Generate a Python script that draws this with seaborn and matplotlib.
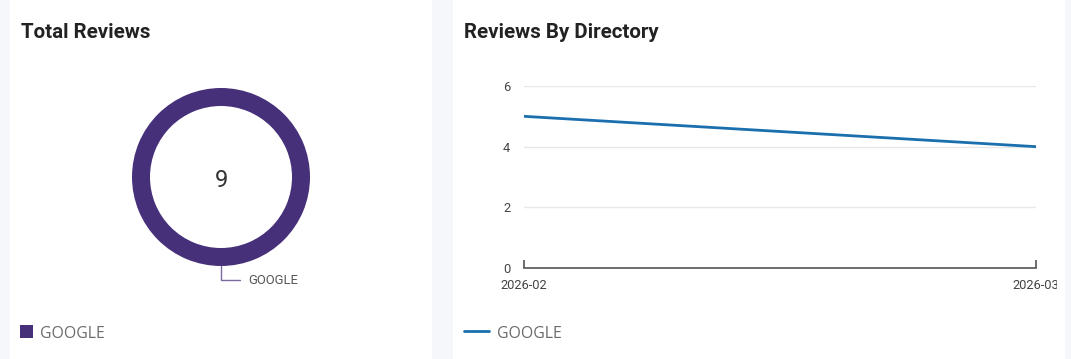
import matplotlib
matplotlib.use("Agg")
import matplotlib.pyplot as plt
from matplotlib.patches import Rectangle
from matplotlib.transforms import Bbox
import seaborn as sns
import pandas as pd

# data
donut_labels = ["GOOGLE"]
donut_values = [9]
months = ["2026-02", "2026-03"]
google_reviews = [5, 4]
y_ticks = [0, 2, 4, 6]

sns.set_theme(style="white")
plt.rcParams['font.family'] = ['Roboto', 'DejaVu Sans']

W, H = 1071, 359
fig = plt.figure(figsize=(W / 100, H / 100), dpi=100)
fig.patch.set_facecolor("#f6f7fb")

def fx(x):
    return x / W

def fy(y):
    return 1 - y / H

# panels
fig.patches.append(Rectangle((fx(10), 0), fx(422), 1, transform=fig.transFigure,
                             facecolor="white", edgecolor="none", zorder=-5))
fig.patches.append(Rectangle((fx(453), 0), fx(612), 1, transform=fig.transFigure,
                             facecolor="white", edgecolor="none", zorder=-5))

fig.text(fx(21), fy(32), "Total Reviews", fontsize=14.8, fontweight="bold",
         color="#222222", va="center", ha="left")
fig.text(fx(464), fy(32), "Reviews By Directory", fontsize=14.8, fontweight="bold",
         color="#222222", va="center", ha="left")

# donut
purple = "#47307a"
cx, cy, r = 221, 177, 89
axd = fig.add_axes([fx(cx - 110), fy(cy + 110), fx(220), 220 / H])
axd.set_aspect("equal")
axd.pie(donut_values, colors=[purple], radius=r / 110, startangle=90,
        counterclock=False, wedgeprops=dict(width=18 / 110, edgecolor="none"))
axd.set_xlim(-1, 1)
axd.set_ylim(-1, 1)
axd.axis("off")
lf = 1 / 110
axd.text(0, -1 * lf, str(sum(donut_values)), ha="center", va="center_baseline",
         fontsize=17, color="#333333")
# label leader
axd.plot([0, 0, 19 * lf], [-r * lf, -103 * lf, -103 * lf], color="#7b6aa0", lw=1,
         clip_on=False)
axd.text(27 * lf, -103 * lf, donut_labels[0], ha="left", va="center", fontsize=9.4,
         color="#555555", clip_on=False)

# left legend
fig.patches.append(Rectangle((fx(20), fy(338)), fx(13), 13 / H, transform=fig.transFigure,
                             facecolor=purple, edgecolor="none"))
fig.text(fx(40), fy(333.5), donut_labels[0], fontsize=11.4, color="#6b6b6b",
         va="center", ha="left", family=["Open Sans", "DejaVu Sans"])

# line chart
blue = "#1b6fae"
axl = fig.add_axes([fx(524), fy(268), fx(1036 - 524), (268 - 86) / H * 1.0])
df = pd.DataFrame({"month": months, "reviews": google_reviews})
sns.lineplot(data=df, x="month", y="reviews", ax=axl, color=blue, lw=2, legend=False)
axl.set_xlim(0, len(months) - 1)
axl.set_ylim(0, 6)
axl.set_yticks(y_ticks)
axl.set_yticklabels([str(v) for v in y_ticks])
axl.set_xlabel("")
axl.set_ylabel("")
axl.set_facecolor("none")
for s in ["top", "right", "left"]:
    axl.spines[s].set_visible(False)
axl.spines["bottom"].set_color("#555555")
axl.spines["bottom"].set_linewidth(1.2)
axl.grid(axis="y", color="#e8e8e8", lw=1)
axl.set_axisbelow(True)
axl.tick_params(axis="y", length=0, pad=10, labelsize=9.3, labelcolor="#444444")
axl.tick_params(axis="x", bottom=True, direction="in", length=6, width=1.2,
                color="#555555", pad=8, labelsize=9.3, labelcolor="#444444")

# right legend
fig.lines.append(plt.Line2D([fx(464), fx(489)], [fy(331), fy(331)], transform=fig.transFigure,
                            color=blue, lw=2))
fig.text(fx(497), fy(333.5), "GOOGLE", fontsize=11.4, color="#6b6b6b",
         va="center", ha="left", family=["Open Sans", "DejaVu Sans"])

fig.canvas.draw()
clip = Bbox.from_extents(453, 0, 1057, H)
for tick in axl.xaxis.get_major_ticks():
    tick.label1.set_clip_on(True)
    tick.label1.set_clip_box(clip)

fig.savefig("out.png", dpi=100, facecolor=fig.get_facecolor())
